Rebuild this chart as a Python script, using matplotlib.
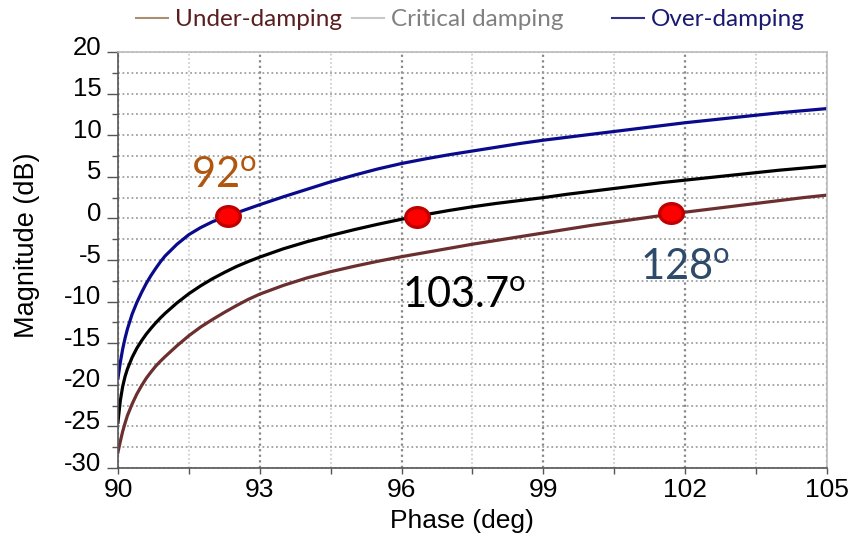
import matplotlib as mpl
mpl.use('Agg')
import matplotlib.pyplot as plt
import matplotlib.transforms as mtransforms
from matplotlib.lines import Line2D
from matplotlib.path import Path
from matplotlib.ticker import MultipleLocator
import numpy as np

plt.rcParams['mathtext.fontset'] = 'custom'
plt.rcParams['mathtext.rm'] = 'Lato'
plt.rcParams['axes.unicode_minus'] = False

# phase (deg) vs magnitude (dB)
phase = [90, 90.05, 90.1, 90.15, 90.2, 90.3, 90.4, 90.5, 90.6, 90.7, 90.8, 90.9, 91,
         91.25, 91.5, 91.75, 92, 92.25, 92.5, 92.75, 93, 93.5, 94, 94.5, 95, 95.5, 96,
         96.5, 97, 97.5, 98, 98.5, 99, 99.5, 100, 100.5, 101, 101.5, 102, 102.5, 103,
         103.5, 104, 104.5, 105]

mag_over = [-19.2, -17.3, -15.7, -14.4, -13.3, -11.5, -10.1, -8.9, -7.8, -6.85, -6.0,
            -5.2, -4.5, -3.1, -1.95, -1.1, -0.4, 0.15, 0.65, 1.15, 1.65, 2.6, 3.5, 4.4,
            5.2, 5.95, 6.6, 7.15, 7.65, 8.1, 8.55, 9.0, 9.4, 9.75, 10.1, 10.45, 10.8,
            11.15, 11.5, 11.8, 12.1, 12.4, 12.7, 12.95, 13.2]

mag_crit = [-24.5, -21.9, -20.2, -19.0, -18.1, -16.7, -15.6, -14.7, -13.9, -13.2,
            -12.55, -11.95, -11.4, -10.15, -9.05, -8.1, -7.25, -6.5, -5.8, -5.2, -4.65,
            -3.65, -2.8, -2.05, -1.35, -0.7, -0.1, 0.45, 0.95, 1.4, 1.8, 2.15, 2.5, 2.9,
            3.25, 3.6, 3.95, 4.3, 4.6, 4.9, 5.2, 5.5, 5.8, 6.05, 6.3]

mag_under = [-28.1, -26.8, -25.6, -24.6, -23.7, -22.3, -21.1, -20.1, -19.2, -18.45,
             -17.75, -17.15, -16.6, -15.3, -14.1, -13.05, -12.15, -11.3, -10.5, -9.75,
             -9.1, -8.05, -7.15, -6.4, -5.75, -5.15, -4.6, -4.1, -3.6, -3.1, -2.65, -2.2,
             -1.75, -1.3, -0.85, -0.45, -0.05, 0.35, 0.75, 1.1, 1.45, 1.8, 2.15, 2.5, 2.8]

# 0 dB crossings marked in red
cross_phase = [92.33, 96.32, 101.7]
cross_mag = [0.25, 0.15, 0.6]

notes = ['92$^{\\mathrm{o}}$', '103.7$^{\\mathrm{o}}$', '128$^{\\mathrm{o}}$']
note_x = [91.55, 96.0, 101.05]
note_y = [3.7, -10.8, -7.4]
note_colors = ['#B0560F', 'black', '#2E4A6B']

legend_names = ['Under-damping', 'Critical damping', 'Over-damping']
legend_text_colors = ['#5A1E1E', '#808080', '#1A1A70']
legend_line_colors = ['#A89070', '#C8C8C8', '#30308A']

fig = plt.figure(figsize=(8.61, 5.35), dpi=100)
ax = fig.add_axes([0.137, 0.1252, 0.8235, 0.7776])

ax.plot(phase, mag_under, color='#6B2F2F', lw=2.3)
ax.plot(phase, mag_crit, color='black', lw=2.3)
ax.plot(phase, mag_over, color='#0A0A8C', lw=2.3)

circ = Path.unit_circle()
ellipse = Path(circ.vertices * np.array([1.2, 1.0]), circ.codes)
ax.plot(cross_phase, cross_mag, ls='none', marker=ellipse, markersize=17,
        mfc='#FF0000', mec='#C00000', mew=2.4, zorder=5)

for txt, x, y, c in zip(notes, note_x, note_y, note_colors):
    ax.text(x, y, txt, color=c, fontsize=30, family='Lato', va='baseline', ha='left')

ax.set_xlim(90, 105)
ax.set_ylim(-30, 20)
ax.xaxis.set_major_locator(MultipleLocator(3))
ax.xaxis.set_minor_locator(MultipleLocator(1.5))
ax.yaxis.set_major_locator(MultipleLocator(5))
ax.yaxis.set_minor_locator(MultipleLocator(2.5))

ax.grid(True, which='major', axis='x', ls=(0, (1, 1.5)), color='#888888', lw=1.6)
ax.grid(True, which='minor', axis='x', ls=(0, (1, 1.5)), color='#C8C8C8', lw=1.2)
ax.grid(True, which='both', axis='y', ls=(0, (1, 1.5)), color='#A0A0A0', lw=1.3)
ax.set_axisbelow(True)

for side in ['left', 'bottom']:
    ax.spines[side].set_color('#555555')
    ax.spines[side].set_linewidth(1.2)
for side in ['right', 'top']:
    ax.spines[side].set_color('#BBBBBB')
    ax.spines[side].set_linewidth(1.2)

ax.tick_params(which='major', axis='y', length=8, width=1, color='#555555',
               labelsize=18.5, pad=4)
ax.tick_params(which='minor', axis='y', length=4, width=1, color='#555555')
ax.tick_params(which='both', axis='x', length=4, width=1, color='#555555',
               labelsize=19, pad=3)
for lab in ax.get_xticklabels() + ax.get_yticklabels():
    lab.set_family('Liberation Sans')
# y labels sit a little above their ticks in the original
shift = mtransforms.ScaledTranslation(0, 7 / 100, fig.dpi_scale_trans)
for lab in ax.get_yticklabels():
    lab.set_transform(lab.get_transform() + shift)

ax.set_xlabel('Phase (deg)', fontsize=19, family='Liberation Sans', va='baseline')
ax.set_ylabel('Magnitude (dB)', fontsize=19.5, family='Liberation Sans')
ax.xaxis.set_label_coords(0.485, -0.145)
ax.yaxis.set_label_coords(-0.110, 0.536)

legend_x = [0.158, 0.409, 0.711]
for name, tc, lc, lx in zip(legend_names, legend_text_colors, legend_line_colors, legend_x):
    h = Line2D([], [], color=lc, lw=1.5)
    leg = fig.legend([h], [name], loc='center left', bbox_to_anchor=(lx, 0.963),
                     frameon=False, handlelength=1.3, handletextpad=0.3,
                     borderpad=0, borderaxespad=0,
                     prop={'family': 'Lato', 'size': 17.5})
    for t in leg.get_texts():
        t.set_color(tc)

fig.savefig('out.png', dpi=100)
